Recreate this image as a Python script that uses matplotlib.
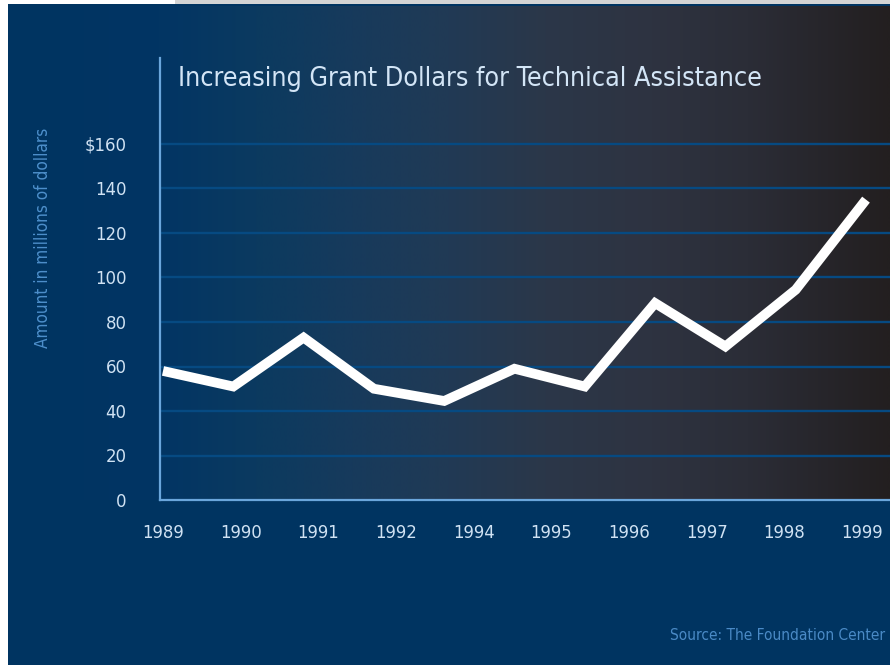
import numpy as np
import matplotlib
matplotlib.use("Agg")
import matplotlib.pyplot as plt
from matplotlib.colors import LinearSegmentedColormap
from matplotlib.patches import Rectangle
from matplotlib import font_manager
from matplotlib.font_manager import FontProperties

# ---- data ----
years = [1989, 1990, 1991, 1992, 1993, 1994, 1995, 1996, 1997, 1998, 1999]
amounts = [58, 51, 73, 50, 44.5, 59, 51, 88.5, 69, 94.5, 135]
tick_labels = ["1989", "1990", "1991", "1992", "1994", "1995", "1996", "1997", "1998", "1999"]
y_ticks = [0, 20, 40, 60, 80, 100, 120, 140, 160]
y_tick_labels = ["0", "20", "40", "60", "80", "100", "120", "140", "$160"]
title = "Increasing Grant Dollars for Technical Assistance"
ylabel = "Amount in millions of dollars"
source = "Source: The Foundation Center"

names = {f.name for f in font_manager.fontManager.ttflist}
FONT = "Liberation Sans Narrow" if "Liberation Sans Narrow" in names else "DejaVu Sans"
STRETCH = "normal" if FONT == "Liberation Sans Narrow" else "condensed"

W, H = 890, 665
BG = "#003461"
fig = plt.figure(figsize=(W / 100, H / 100), dpi=100, facecolor=BG)
renderer = fig.canvas.get_renderer()

def fx(px):
    return px / W

def fy(py):
    return 1 - py / H

def fit(t, target_px, axis="w"):
    bb = t.get_window_extent(renderer)
    cur = bb.width if axis == "w" else bb.height
    t.set_fontsize(t.get_fontsize() * target_px / cur)
    return t

# top/left border strips
fig.patches.append(Rectangle((0, fy(4)), fx(175), 4 / H, transform=fig.transFigure,
                             facecolor="white", edgecolor="none", zorder=0))
fig.patches.append(Rectangle((fx(175), fy(4)), 1 - fx(175), 4 / H, transform=fig.transFigure,
                             facecolor="#d4d4d4", edgecolor="none", zorder=0))
fig.patches.append(Rectangle((0, 0), fx(8), 1, transform=fig.transFigure,
                             facecolor="white", edgecolor="none", zorder=0))

# gradient panel
gax = fig.add_axes([fx(8), fy(500), 1 - fx(8), (500 - 6) / H], zorder=0)
stops = [(0.0, "#003461"), (0.17, "#023564"), (0.28, "#0b3a60"), (0.39, "#173a5c"),
         (0.50, "#213a55"), (0.61, "#2b3749"), (0.73, "#2e3341"), (0.84, "#2b2d37"),
         (1.0, "#231f20")]
cmap = LinearSegmentedColormap.from_list("grad", stops)
gax.imshow(np.linspace(0, 1, 512)[None, :], aspect="auto", cmap=cmap,
           extent=[0, 1, 0, 1], interpolation="bilinear")
gax.set_axis_off()

# main axes
ax = fig.add_axes([fx(160), fy(500), 1 - fx(160), (500 - 58) / H], zorder=2)
ax.set_facecolor("none")
px_per_year = (866 - 163) / 10
ax.set_xlim(1989 - 3 / px_per_year, 1999 + 24 / px_per_year)
ax.set_ylim(0, 160 * (500 - 58) / (500 - 144))

for v in y_ticks[1:]:
    ax.axhline(v, color="#064a82", lw=1.7, zorder=1)

ax.plot(years, amounts, color="white", lw=7, solid_joinstyle="miter",
        solid_capstyle="butt", zorder=3)

for side in ["top", "right"]:
    ax.spines[side].set_visible(False)
for side in ["left", "bottom"]:
    ax.spines[side].set_color("#6aa6dc")
    ax.spines[side].set_linewidth(1.6)

# tick label size fitted so "1989" is ~42 px wide
probe = fig.text(0, 0, "1989", fontsize=16, family=FONT, fontstretch=STRETCH)
fit(probe, 42)
tick_fs = probe.get_fontsize()
probe.remove()

ax.set_yticks(y_ticks)
ax.set_yticklabels(y_tick_labels)
xt = np.linspace(1989, 1989 + (862 - 163) / px_per_year, len(tick_labels))
ax.set_xticks(xt)
ax.set_xticklabels(tick_labels)
ax.tick_params(axis="both", length=0, colors="#d0e2f3", labelsize=tick_fs)
ax.tick_params(axis="y", pad=24)
ax.tick_params(axis="x", pad=17)
for lab in ax.get_xticklabels() + ax.get_yticklabels():
    lab.set_fontfamily(FONT)
    lab.set_fontstretch(STRETCH)

t1 = fig.text(fx(178), fy(79), title, color="#d3e5f6", fontsize=22, family=FONT,
              fontstretch=STRETCH, ha="left", va="center")
fit(t1, 587)
t2 = fig.text(fx(43), fy(238), ylabel, color="#4d8fcb", fontsize=15, family=FONT,
              fontstretch=STRETCH, rotation=90, ha="center", va="center")
fit(t2, 220, axis="h")
t3 = fig.text(fx(885), fy(636), source, color="#4a8ac6", fontsize=13, family=FONT,
              fontstretch=STRETCH, ha="right", va="center")
fit(t3, 215)

fig.savefig("out.png", dpi=100, facecolor=BG)
